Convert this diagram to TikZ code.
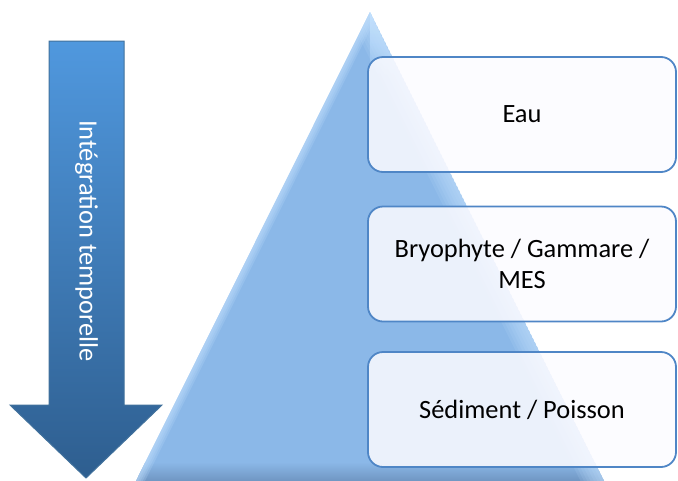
\documentclass[tikz,border=0pt]{standalone}
\usepackage{fontspec}
\setmainfont{Carlito}
\usetikzlibrary{calc}
\definecolor{pyr}{RGB}{139,184,232}
\definecolor{pyrdark}{RGB}{110,148,192}
\definecolor{pyrlight}{RGB}{196,226,255}
\definecolor{arrtop}{RGB}{80,152,222}
\definecolor{arrbot}{RGB}{46,94,143}
\definecolor{arrline}{RGB}{65,113,156}
\definecolor{boxline}{RGB}{79,134,198}
\definecolor{boxfill}{RGB}{252,251,255}
\begin{document}
\begin{tikzpicture}[x=1pt,y=-1pt,
  lvl/.style={draw=boxline, line width=1.8pt, fill=boxfill, fill opacity=0.85,
    text opacity=1, rounded corners=15pt, minimum width=308pt, minimum height=115pt,
    align=center, font=\fontsize{26.4}{31}\selectfont, inner sep=0pt},
  arrtext/.style={rotate=-90, text=white, font=\fontsize{26.4}{31}\selectfont, inner sep=0pt}
]
\useasboundingbox (0,0) rectangle (678,480);
% pyramid
\coordinate (apex) at (370,12);
\coordinate (bl) at (136,481);
\coordinate (br) at (604,481);
\begin{scope}
  \clip (apex)--(bl)--(br)--cycle;
  \fill[pyr] (apex)--(bl)--(br)--cycle;
  \shade[top color=pyrlight, bottom color=pyr] (apex)--(400,75)--(370,75)--cycle;
  \shade[top color=pyr, bottom color=pyrdark] (100,462) rectangle (640,482);
  \foreach \w in {6,12,...,42} \draw[pyrlight, line width=\w pt, opacity=0.13] (apex)--(br);
  \foreach \w in {4,8,...,16} \draw[pyrlight, line width=\w pt, opacity=0.2] (apex)--(bl);
\end{scope}
% arrow
\coordinate (a1) at (49,41);
\coordinate (a2) at (124,41);
\coordinate (a3) at (124,405);
\coordinate (a4) at (162,405);
\coordinate (a5) at (86,478);
\coordinate (a6) at (10,405);
\coordinate (a7) at (49,405);
\shadedraw[top color=arrtop, bottom color=arrbot, draw=arrline, line width=1pt]
  (a1)--(a2)--(a3)--(a4)--(a5)--(a6)--(a7)--cycle;
\node[arrtext] (temps) at (86.5,241) {Intégration temporelle};
% levels
\node[lvl] (eau) at (522,114.5) {Eau};
\node[lvl] (bryo) at (522,264) {Bryophyte / Gammare /\\MES};
\node[lvl] (sed) at (522,409.5) {Sédiment / Poisson};
\end{tikzpicture}
\end{document}
